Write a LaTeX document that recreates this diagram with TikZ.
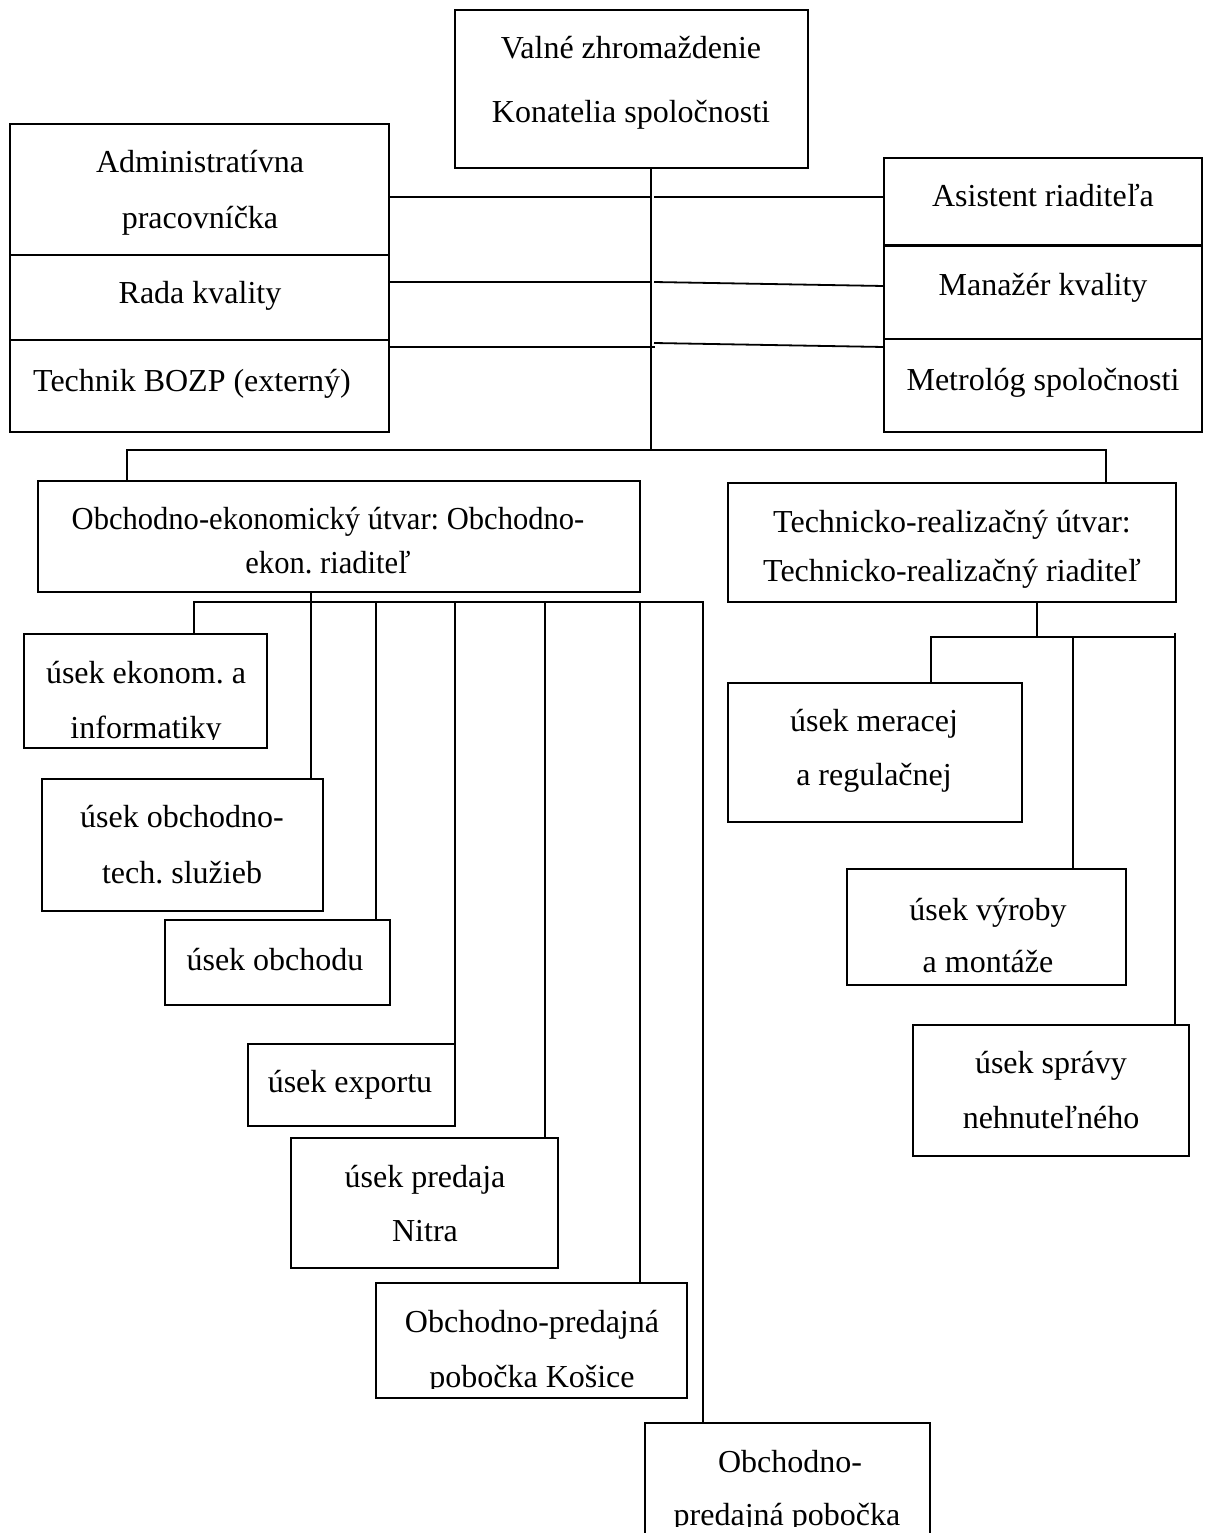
\documentclass[tikz,border=0pt]{standalone}
\usepackage{fontspec}
\setmainfont{Liberation Serif}
\frenchspacing
\newcommand\mkbox[5]{\node[box,minimum width=#4pt,minimum height=#5pt] (#1) at (#2,#3) {};}
\begin{document}
\begin{tikzpicture}[x=1pt,y=-1pt,line width=1.8pt,
  box/.style={draw,rectangle,anchor=north west,inner sep=0pt,outer sep=0pt},
  txt/.style={anchor=base,inner sep=0pt,font=\fontsize{32pt}{38pt}\selectfont\frenchspacing}]
\clip (0,0) rectangle (1204,1533);
\fill[white] (0,0) rectangle (1204,1533);

% ---- boxes
\mkbox{top}{455}{10}{353}{158}
\mkbox{left}{10}{124}{379}{308}
\mkbox{right}{884}{158}{318}{274}
\mkbox{oek}{38}{481}{602}{111}
\mkbox{tech}{728}{483}{448}{119}
\mkbox{ekonom}{24}{634}{243}{114}
\mkbox{obtech}{42}{779}{281}{132}
\mkbox{obchodu}{165}{920}{225}{85}
\mkbox{export}{248}{1044}{207}{82}
\mkbox{nitra}{291}{1138}{267}{130}
\mkbox{kosice}{376}{1283}{311}{115}
\mkbox{bottom}{645}{1423}{285}{150}
\mkbox{meracej}{728}{683}{294}{139}
\mkbox{vyroby}{847}{869}{279}{116}
\mkbox{spravy}{913}{1025}{276}{131}

% ---- dividers of the two staff stacks
\draw (left.west |- 0,255) -- (left.east |- 0,255);
\draw (left.west |- 0,340) -- (left.east |- 0,340);
\draw[line width=3pt] (right.west |- 0,245) -- (right.east |- 0,245);
\draw (right.west |- 0,339) -- (right.east |- 0,339);

% ---- texts
\node[txt] (top-a) at (631,59) {Valné zhromaždenie};
\node[txt] (top-b) at (631,123) {Konatelia spoločnosti};
\node[txt] (left-a) at (200,173) {Administratívna};
\node[txt] (left-b) at (200,228) {pracovníčka};
\node[txt] (left-c) at (200,303) {Rada kvality};
\node[txt] (left-d) at (192,391) {Technik BOZP (externý)};
\node[txt] (right-a) at (1043,207) {Asistent riaditeľa};
\node[txt] (right-b) at (1043,295) {Manažér kvality};
\node[txt] (right-c) at (1043,390) {Metrológ spoločnosti};
\node[txt] (oek-a) at (328,529) {\scalebox{0.955}[1]{Obchodno-ekonomický útvar: Obchodno-}};
\node[txt] (oek-b) at (328,573) {\scalebox{0.955}[1]{ekon. riaditeľ}};
\node[txt] (tech-a) at (952,532) {Technicko-realizačný útvar:};
\node[txt] (tech-b) at (952,581) {Technicko-realizačný riaditeľ};
\node[txt] (ekonom-a) at (146,683) {úsek ekonom. a};
\begin{scope}
  \clip (ekonom.north west) rectangle (267,739);
  \node[txt] (ekonom-b) at (146,738) {informatiky};
\end{scope}
\node[txt] (obtech-a) at (182,827) {úsek obchodno-};
\node[txt] (obtech-b) at (182,883) {tech. služieb};
\node[txt] (obchodu-a) at (275,970) {úsek obchodu};
\node[txt] (export-a) at (350,1092) {úsek exportu};
\node[txt] (nitra-a) at (425,1187) {úsek predaja};
\node[txt] (nitra-b) at (425,1241) {Nitra};
\node[txt] (kosice-a) at (532,1332) {Obchodno-predajná};
\begin{scope}
  \clip (kosice.north west) rectangle (687,1388);
  \node[txt] (kosice-b) at (532,1387) {pobočka Košice};
\end{scope}
\node[txt] (bottom-a) at (790,1472) {Obchodno-};
\begin{scope}
  \clip (bottom.north west) rectangle (930,1526);
  \node[txt] (bottom-b) at (787,1525) {predajná pobočka};
\end{scope}
\node[txt] (meracej-a) at (874,731) {úsek meracej};
\node[txt] (meracej-b) at (874,785) {a regulačnej};
\node[txt] (vyroby-a) at (988,920) {úsek výroby};
\node[txt] (vyroby-b) at (988,972) {a montáže};
\node[txt] (spravy-a) at (1051,1073) {úsek správy};
\node[txt] (spravy-b) at (1051,1128) {nehnuteľného};

% ---- trunk from the general assembly
\coordinate (tk) at (651,450);
\draw (top.south -| tk) -- (tk);
\draw (left.east |- 0,197) -- (651,197);
\draw (654,197) -- (right.west |- 0,197);
\draw (left.east |- 0,282) -- (651,282);
\draw (654,282) -- (right.west |- 0,286);
\draw (left.east |- 0,347) -- (655,347);
\draw (654,343) -- (right.west |- 0,347);
\draw (oek.north -| 127,0) -- (127,450) -- (1106,450) -- (tech.north -| 1106,0);

% ---- commercial-economic division
\coordinate (ob) at (311,602);
\draw (oek.south -| ob) -- (obtech.north -| ob);
\draw (ekonom.north -| 194,0) -- (194,602) -- (703,602) -- (bottom.north -| 703,0);
\draw (376,602) -- (obchodu.north -| 376,0);
\draw (455,602) -- (export.north -| 455,0);
\draw (545,602) -- (nitra.north -| 545,0);
\draw (640,602) -- (kosice.north -| 640,0);

% ---- technical division
\draw (tech.south -| 1037,0) -- (1037,637);
\draw (meracej.north -| 931,0) -- (931,637) -- (1175,637);
\draw (1073,637) -- (vyroby.north -| 1073,0);
\draw (1175,633) -- (spravy.north -| 1175,0);
\end{tikzpicture}
\end{document}
